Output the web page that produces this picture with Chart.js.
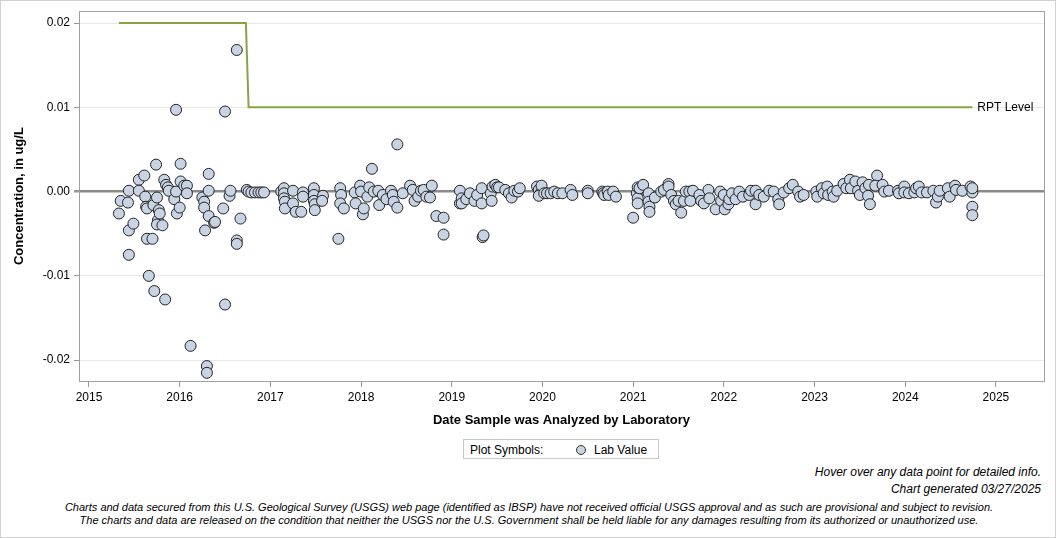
<!DOCTYPE html>
<html>
<head>
<meta charset="utf-8">
<script src="https://cdn.jsdelivr.net/npm/chart.js@4/dist/chart.umd.min.js"></script>
<style>
  html, body { margin: 0; padding: 0; background: #fff; }
  #frame { position: relative; width: 1056px; height: 538px; box-sizing: border-box; border: 1px solid #d0d0d0; overflow: hidden; font-family: "Liberation Sans", Arial, sans-serif; color: #000; }
  #cwrap { position: absolute; left: -1px; top: -1px; width: 1056px; height: 432px; }
  #legend { position: absolute; left: 462px; top: 438px; width: 196px; height: 20px; box-sizing: border-box; border: 1px solid #c8c8c8; font-size: 12px; line-height: 18px; }
  #legend .lbl { position: absolute; left: 6px; top: 1px; }
  #legend .dot { position: absolute; left: 112px; top: 5px; width: 8px; height: 8px; border-radius: 50%; background: #c8d4e4; border: 1px solid #333; }
  #legend .val { position: absolute; left: 130px; top: 1px; }
  .note { position: absolute; right: 14px; font-size: 12px; font-style: italic; text-align: right; white-space: nowrap; }
  .foot { position: absolute; left: 0; width: 1056px; text-align: center; font-size: 11px; font-style: italic; white-space: nowrap; }
</style>
</head>
<body>
<div id="frame">
  <div id="cwrap"><canvas id="c" width="1056" height="432"></canvas></div>
  <div id="legend"><span class="lbl">Plot Symbols:</span><span class="dot"></span><span class="val">Lab Value</span></div>
  <div class="note" style="top:464px;">Hover over any data point for detailed info.</div>
  <div class="note" style="top:481px;">Chart generated 03/27/2025</div>
  <div class="foot" style="top:500px;">Charts and data secured from this U.S. Geological Survey (USGS) web page (identified as IBSP) have not received official USGS approval and as such are provisional and subject to revision.</div>
  <div class="foot" style="top:513px;">The charts and data are released on the condition that neither the USGS nor the U.S. Government shall be held liable for any damages resulting from its authorized or unauthorized use.</div>
</div>
<script>
// ---- Data (decimal year of analysis, concentration in ug/L) ----
const sampleDates = [
  2015.33,2015.35,2015.43,2015.44,2015.44,2015.44,2015.49,2015.55,2015.55,2015.61,
  2015.62,2015.63,2015.64,2015.66,2015.64,2015.70,2015.72,2015.71,2015.74,2015.75,
  2015.76,2015.75,2015.77,2015.78,2015.81,2015.84,2015.83,2015.85,2015.87,2015.88,
  2015.94,2015.96,2015.96,2015.97,2016.00,2016.01,2016.01,2016.05,2016.08,2016.08,
  2016.12,2016.25,2016.27,2016.27,2016.28,2016.30,2016.30,2016.32,2016.32,2016.32,
  2016.38,2016.39,2016.48,2016.50,2016.50,2016.55,2016.56,2016.63,2016.63,2016.63,
  2016.67,2016.74,2016.76,2016.79,2016.83,2016.87,2016.90,2016.93,
  2017.12,2017.15,2017.15,2017.15,2017.16,2017.16,2017.25,2017.25,2017.28,2017.34,
  2017.36,2017.36,2017.48,2017.48,2017.48,2017.49,2017.49,2017.58,2017.57,2017.77,
  2017.78,2017.75,2017.77,2017.81,2017.93,2017.94,2017.99,2018.00,2018.02,2018.03,
  2018.07,2018.09,2018.12,2018.14,2018.19,2018.20,2018.24,2018.28,2018.33,2018.35,
  2018.36,2018.40,2018.40,2018.46,2018.54,2018.57,2018.59,2018.63,2018.66,2018.69,
  2018.72,2018.76,2018.78,2018.83,2018.91,2018.91,
  2019.09,2019.09,2019.11,2019.11,2019.16,2019.20,2019.25,2019.28,2019.33,2019.33,
  2019.34,2019.35,2019.43,2019.44,2019.45,2019.48,2019.50,2019.52,2019.59,2019.63,
  2019.66,2019.69,2019.73,2019.75,2019.94,2019.96,2019.98,2019.99,2019.96,2020.02,
  2020.05,2020.09,2020.13,2020.17,2020.22,2020.31,2020.33,2020.50,2020.50,2020.66,
  2020.67,2020.68,2020.72,2020.73,2020.78,2020.81,2021.00,2021.04,2021.05,2021.05,
  2021.05,2021.07,2021.11,
  2021.17,2021.17,2021.18,2021.18,2021.24,2021.31,2021.34,2021.39,2021.39,2021.42,
  2021.45,2021.47,2021.50,2021.53,2021.56,2021.58,2021.62,2021.63,2021.66,2021.73,
  2021.75,2021.78,2021.83,2021.84,2021.91,2021.96,2021.97,2022.00,2022.01,2022.05,
  2022.06,2022.09,2022.13,2022.17,2022.21,2022.28,2022.30,2022.35,2022.35,2022.39,
  2022.44,2022.50,2022.55,2022.60,2022.61,2022.66,2022.72,2022.76,2022.82,2022.84,
  2022.88,
  2023.02,2023.03,2023.08,2023.10,2023.14,2023.15,2023.20,2023.21,2023.25,2023.32,
  2023.35,2023.39,2023.40,2023.45,2023.48,2023.50,2023.53,2023.56,2023.59,2023.61,
  2023.60,2023.69,2023.67,2023.75,2023.77,2023.82,2023.92,2023.93,2023.99,2023.99,
  2024.04,2024.10,2024.12,2024.15,2024.18,2024.24,2024.31,2024.34,2024.36,2024.38,
  2024.47,2024.49,2024.55,2024.56,2024.63,2024.72,2024.74,2024.74,2024.74,2024.74
];
const labValues = [
  -0.0026,-0.0011,-0.0013,0.0001,-0.0046,-0.0075,-0.0038,0.0014,0.0001,0.0019,
  -0.0006,-0.0018,-0.0020,-0.0100,-0.0056,-0.0056,-0.0118,-0.0016,0.0032,-0.0007,
  -0.0034,-0.0039,-0.0022,-0.0026,-0.0040,-0.0128,0.0014,0.0008,0.0005,0.0001,
  -0.0009,0.0000,0.0097,-0.0026,-0.0019,0.0033,0.0012,0.0007,0.0007,-0.0002,
  -0.0183,-0.0007,-0.0012,-0.0019,-0.0046,-0.0207,-0.0215,0.0001,-0.0029,0.0021,
  -0.0037,-0.0036,-0.0020,-0.0134,0.0095,-0.0005,0.0001,0.0168,-0.0058,-0.0062,
  -0.0032,0.0002,0.0000,-0.0001,-0.0001,-0.0001,-0.0001,-0.0001,
  0.0000,0.0004,-0.0002,-0.0008,-0.0012,-0.0020,0.0001,-0.0014,-0.0024,-0.0024,
  -0.0001,-0.0006,0.0004,-0.0004,-0.0011,-0.0015,-0.0022,-0.0005,-0.0011,0.0004,
  -0.0004,-0.0056,-0.0014,-0.0020,-0.0001,-0.0014,0.0007,0.0000,-0.0027,-0.0020,
  -0.0006,0.0005,0.0027,0.0000,0.0001,-0.0016,-0.0004,-0.0009,0.0001,-0.0004,
  -0.0012,-0.0019,0.0056,-0.0002,0.0007,0.0002,-0.0011,-0.0006,0.0001,0.0002,
  -0.0006,-0.0007,0.0007,-0.0029,-0.0031,-0.0051,
  0.0001,-0.0014,-0.0008,-0.0014,-0.0009,-0.0002,-0.0011,-0.0004,0.0004,-0.0014,
  -0.0054,-0.0052,-0.0002,-0.0011,0.0006,0.0008,0.0005,0.0005,0.0002,-0.0002,
  -0.0007,0.0001,0.0000,0.0004,0.0006,0.0002,-0.0002,0.0007,-0.0005,-0.0002,
  -0.0002,-0.0002,0.0000,-0.0002,-0.0002,0.0002,-0.0004,0.0001,-0.0002,0.0000,
  -0.0002,-0.0004,0.0000,-0.0004,0.0000,-0.0006,-0.0031,-0.0002,0.0005,-0.0008,
  -0.0014,0.0004,0.0008,
  -0.0002,-0.0012,-0.0018,-0.0024,-0.0007,0.0000,0.0002,0.0009,0.0006,-0.0004,
  -0.0011,-0.0015,-0.0011,-0.0025,-0.0011,0.0000,0.0000,-0.0011,0.0001,-0.0004,
  -0.0011,-0.0014,0.0002,-0.0008,-0.0021,0.0000,-0.0011,-0.0004,-0.0021,-0.0015,
  -0.0009,-0.0002,-0.0009,0.0000,-0.0006,-0.0004,0.0001,0.0001,-0.0015,-0.0004,
  -0.0006,0.0001,0.0000,-0.0009,-0.0015,-0.0001,0.0004,0.0008,0.0000,-0.0006,
  -0.0004,
  0.0000,-0.0006,0.0004,-0.0002,0.0006,-0.0004,0.0000,-0.0006,0.0001,0.0009,
  0.0004,0.0014,0.0004,0.0012,0.0001,-0.0004,0.0011,0.0004,-0.0005,-0.0015,
  0.0008,0.0019,0.0007,0.0008,0.0000,0.0001,0.0001,-0.0002,0.0006,-0.0001,
  -0.0002,-0.0001,0.0004,0.0006,-0.0001,-0.0001,0.0001,-0.0013,-0.0006,0.0001,
  0.0004,-0.0006,0.0007,0.0002,0.0001,0.0006,-0.0001,-0.0018,-0.0028,0.0004
];
// Reporting level step line
const rptDates  = [2015.33, 2016.73, 2016.76, 2024.74];
const rptLevels = [0.02, 0.02, 0.01, 0.01];
const rptLabel = 'RPT Level';
// Axis settings
const xTickYears = [2015, 2016, 2017, 2018, 2019, 2020, 2021, 2022, 2023, 2024, 2025];
const yTickValues = [-0.02, -0.01, 0, 0.01, 0.02];

const labPoints = sampleDates.map((d, i) => ({ x: d, y: labValues[i] }));
const rptPoints = rptDates.map((d, i) => ({ x: d, y: rptLevels[i] }));

const frameBox = {
  id: 'frameBox',
  afterDraw(chart) {
    const { ctx, chartArea: a } = chart;
    ctx.save();
    ctx.strokeStyle = '#a0a0a0';
    ctx.lineWidth = 1;
    ctx.strokeRect(Math.round(a.left) + 0.5, Math.round(a.top) + 0.5, Math.round(a.right - a.left), Math.round(a.bottom - a.top));
    const xs = chart.scales.x, ys = chart.scales.y;
    const lx = xs.getPixelForValue(rptDates[rptDates.length - 1]) + 5;
    const ly = ys.getPixelForValue(rptLevels[rptLevels.length - 1]);
    ctx.fillStyle = '#000';
    ctx.font = '12px "Liberation Sans", Arial, sans-serif';
    ctx.textAlign = 'left';
    ctx.textBaseline = 'middle';
    ctx.fillText(rptLabel, lx, ly);
    ctx.restore();
  }
};

new Chart(document.getElementById('c'), {
  type: 'scatter',
  data: {
    datasets: [
      {
        label: 'RPT Level',
        type: 'line',
        data: rptPoints,
        borderColor: '#86a444',
        borderWidth: 2,
        pointRadius: 0,
        fill: false,
        tension: 0,
        order: 2
      },
      {
        label: 'Lab Value',
        data: labPoints,
        backgroundColor: '#c8d4e4',
        borderColor: '#222',
        borderWidth: 1,
        pointRadius: 5.5,
        pointHoverRadius: 6,
        order: 1
      }
    ]
  },
  options: {
    responsive: false,
    animation: false,
    layout: { padding: { top: 9, right: 12, left: 0, bottom: 0 } },
    plugins: { legend: { display: false }, tooltip: { enabled: true } },
    scales: {
      x: {
        type: 'linear',
        min: 2014.89,
        max: 2025.53,
        afterFit(s) { s.height = 51; },
        afterBuildTicks(s) { s.ticks = xTickYears.map(v => ({ value: v })); },
        ticks: {
          callback: v => String(Math.round(v)),
          color: '#000',
          font: { family: '"Liberation Sans", Arial, sans-serif', size: 12 },
          padding: 3,
          maxRotation: 0,
          autoSkip: false
        },
        grid: { drawOnChartArea: false, drawTicks: true, tickLength: 6, tickColor: '#999' },
        border: { display: true, color: '#a0a0a0' },
        title: {
          display: true,
          text: 'Date Sample was Analyzed by Laboratory',
          color: '#000',
          font: { family: '"Liberation Sans", Arial, sans-serif', size: 13, weight: 'bold' },
          padding: { top: 4, bottom: 4 }
        }
      },
      y: {
        type: 'linear',
        min: -0.02247,
        max: 0.0214,
        afterFit(s) { s.width = 79; },
        afterBuildTicks(s) { s.ticks = yTickValues.map(v => ({ value: v })); },
        ticks: {
          callback: v => (Math.abs(v) < 1e-9 ? 0 : v).toFixed(2),
          color: '#000',
          font: { family: '"Liberation Sans", Arial, sans-serif', size: 12 },
          padding: 4
        },
        grid: {
          color: ctx => (ctx.tick && Math.abs(ctx.tick.value) < 1e-9) ? '#8a8a8a' : '#e8e8e8',
          lineWidth: ctx => (ctx.tick && Math.abs(ctx.tick.value) < 1e-9) ? 2.5 : 1,
          tickColor: '#999',
          tickLength: 5
        },
        border: { display: true, color: '#a0a0a0' },
        title: {
          display: true,
          text: 'Concentration, in ug/L',
          color: '#000',
          font: { family: '"Liberation Sans", Arial, sans-serif', size: 13, weight: 'bold' },
          padding: { top: 12, bottom: 4 }
        }
      }
    }
  },
  plugins: [frameBox]
});
</script>
</body>
</html>
